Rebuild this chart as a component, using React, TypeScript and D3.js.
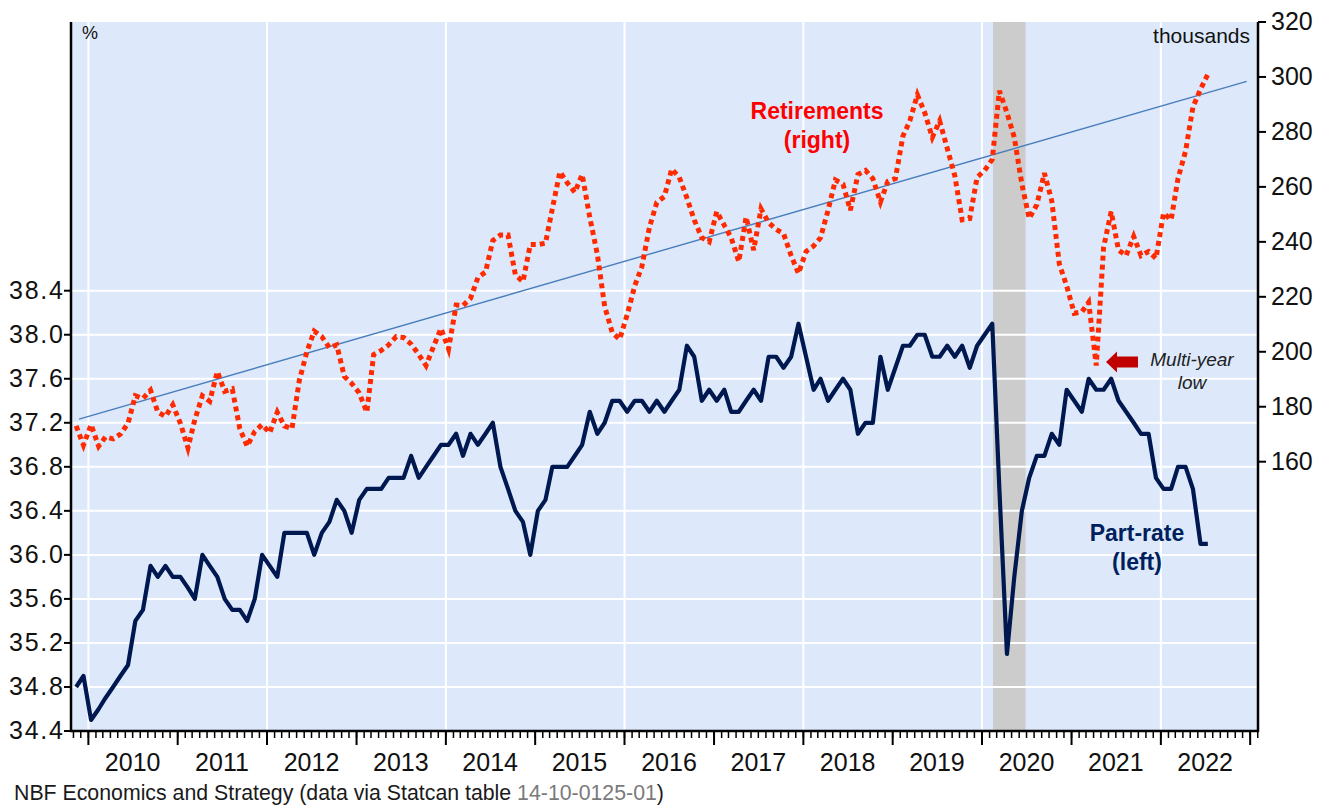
import React from 'react';
import * as d3 from 'd3';

// monthly data, Nov 2009 .. Jul 2022
const firstMonth = new Date(2009, 10, 12);

// participation rate, % (left axis)
const partRate = [
  34.8, 34.9,
  34.5, 34.6, 34.7, 34.8, 34.9, 35.0, 35.4, 35.5, 35.9, 35.8, 35.9, 35.8,
  35.8, 35.7, 35.6, 36.0, 35.9, 35.8, 35.6, 35.5, 35.5, 35.4, 35.6, 36.0,
  35.9, 35.8, 36.2, 36.2, 36.2, 36.2, 36.0, 36.2, 36.3, 36.5, 36.4, 36.2,
  36.5, 36.6, 36.6, 36.6, 36.7, 36.7, 36.7, 36.9, 36.7, 36.8, 36.9, 37.0,
  37.0, 37.1, 36.9, 37.1, 37.0, 37.1, 37.2, 36.8, 36.6, 36.4, 36.3, 36.0,
  36.4, 36.5, 36.8, 36.8, 36.8, 36.9, 37.0, 37.3, 37.1, 37.2, 37.4, 37.4,
  37.3, 37.4, 37.4, 37.3, 37.4, 37.3, 37.4, 37.5, 37.9, 37.8, 37.4, 37.5,
  37.4, 37.5, 37.3, 37.3, 37.4, 37.5, 37.4, 37.8, 37.8, 37.7, 37.8, 38.1,
  37.8, 37.5, 37.6, 37.4, 37.5, 37.6, 37.5, 37.1, 37.2, 37.2, 37.8, 37.5,
  37.7, 37.9, 37.9, 38.0, 38.0, 37.8, 37.8, 37.9, 37.8, 37.9, 37.7, 37.9,
  38.0, 38.1, 36.6, 35.1, 35.8, 36.4, 36.7, 36.9, 36.9, 37.1, 37.0, 37.5,
  37.4, 37.3, 37.6, 37.5, 37.5, 37.6, 37.4, 37.3, 37.2, 37.1, 37.1, 36.7,
  36.6, 36.6, 36.8, 36.8, 36.6, 36.1, 36.1,
];

// retirements, thousands (right axis)
const retirements = [
  173, 166,
  173.5, 165.6, 169, 168.3, 170, 174, 184, 183, 186, 178, 176.5, 180.7,
  174, 165, 175.3, 184, 182, 192.8, 185.6, 186.5, 172, 165.6, 171, 173.5,
  170.5, 178, 173, 172, 189.5, 200, 207.5, 205.5, 201.5, 202.5, 191, 188.5,
  185, 178, 199, 200.5, 202.5, 205.5, 205.2, 202.8, 199, 195, 202, 208.5,
  201, 217, 216.8, 219.5, 227, 229, 240.5, 242.5, 242.5, 228, 225.5, 239,
  239, 239.5, 252, 265.5, 261.5, 258, 264.5, 249, 235.5, 216.5, 207, 204.5,
  213.5, 224, 231, 245.3, 254.3, 256.5, 266.5, 263.5, 256, 248, 241.5, 240,
  251, 246, 241.5, 232.8, 249, 237, 252, 247, 244.5, 243, 235, 228.5,
  236.5, 238.5, 241.5, 251.5, 262.5, 261, 251.5, 264.5, 266, 263, 254.5, 262,
  263, 278.5, 284, 293.5, 287, 278, 284, 274, 264, 248, 248.5, 263.5,
  266, 270, 295, 287, 278, 261, 248.5, 253.5, 265, 255, 232, 224,
  214, 214.5, 218, 195, 238, 251, 237, 235, 242, 235, 236.5, 234,
  250.5, 248, 263, 273, 289, 295.5, 301,
];

// linear trend of retirements
const trendDates = [new Date(2009, 10, 24), new Date(2022, 11, 18)];
const trendValues = [175.5, 298.4];

// recession shading
const recession = [new Date(2020, 1, 15), new Date(2020, 5, 27)];

const years = [2010, 2011, 2012, 2013, 2014, 2015, 2016, 2017, 2018, 2019, 2020, 2021, 2022];
const leftTicks = [34.4, 34.8, 35.2, 35.6, 36.0, 36.4, 36.8, 37.2, 37.6, 38.0, 38.4];
const rightTicks = [160, 180, 200, 220, 240, 260, 280, 300, 320];

const W = 1325;
const H = 807;
const left = 71;
const right = 1258;
const top = 22;
const bottom = 731;
const font = 'Liberation Sans, Arial, sans-serif';

export default function App() {
  const x = d3.scaleTime().domain([new Date(2009, 9, 22), new Date(2023, 1, 2)]).range([left, right]);
  const yL = d3.scaleLinear().domain([34.4, 38.4]).range([bottom, 290.7]);
  const yR = d3.scaleLinear().domain([160, 320]).range([461.7, top]);

  const months = partRate.map((_, i) => d3.timeMonth.offset(firstMonth, i));

  const partLine = d3.line<number>()
    .x((_, i) => x(months[i]))
    .y((d) => yL(d));
  const retLine = d3.line<number>()
    .x((_, i) => x(months[i]))
    .y((d) => yR(d));

  const minorTicks = d3.timeMonth.range(new Date(2009, 10, 1), new Date(2023, 1, 2));
  const majorTicks = [...years, 2023].map((y) => new Date(y, 0, 1));

  return (
    <svg width={W} height={H} style={{ position: 'absolute', left: 0, top: 0 }} fontFamily={font}>
      <rect x={0} y={0} width={W} height={H} fill="#ffffff" />
      <rect x={left} y={top} width={right - left} height={bottom - top} fill="#dde9fb" />

      {/* recession */}
      <rect
        x={x(recession[0])}
        y={top}
        width={x(recession[1]) - x(recession[0])}
        height={bottom - top}
        fill="#cccccc"
      />

      {/* grid */}
      {leftTicks.map((t) => (
        <line key={'h' + t} x1={left} x2={right} y1={yL(t)} y2={yL(t)} stroke="#ffffff" strokeWidth={2} />
      ))}
      {years.filter((y) => y % 2 === 0).map((y) => (
        <line
          key={'v' + y}
          x1={x(new Date(y, 0, 1))}
          x2={x(new Date(y, 0, 1))}
          y1={top}
          y2={bottom}
          stroke="#ffffff"
          strokeWidth={2}
        />
      ))}

      {/* trend */}
      <line
        x1={x(trendDates[0])}
        y1={yR(trendValues[0])}
        x2={x(trendDates[1])}
        y2={yR(trendValues[1])}
        stroke="#4a7ebb"
        strokeWidth={1.4}
      />

      {/* series */}
      <path
        d={retLine(retirements) || ''}
        fill="none"
        stroke="#ff2a00"
        strokeWidth={5}
        strokeDasharray="5 4"
      />
      <path
        d={partLine(partRate) || ''}
        fill="none"
        stroke="#001850"
        strokeWidth={4.2}
        strokeLinejoin="round"
      />

      {/* axes */}
      <line x1={left} x2={left} y1={top} y2={bottom + 1} stroke="#000" strokeWidth={2.5} />
      <line x1={right} x2={right} y1={top} y2={bottom + 1} stroke="#000" strokeWidth={2.5} />
      <line x1={left - 1} x2={right + 1} y1={bottom} y2={bottom} stroke="#000" strokeWidth={2.5} />

      {leftTicks.map((t) => (
        <g key={'lt' + t}>
          <line x1={left - 7} x2={left} y1={yL(t)} y2={yL(t)} stroke="#000" strokeWidth={2} />
          <text
            x={left - 62}
            y={yL(t) + 8}
            textAnchor="start"
            fontSize={25}
            fill="#111"
            textLength={54}
            lengthAdjust="spacing"
          >
            {t.toFixed(1)}
          </text>
        </g>
      ))}
      {rightTicks.map((t) => (
        <g key={'rt' + t}>
          <line x1={right} x2={right + 8} y1={yR(t)} y2={yR(t)} stroke="#000" strokeWidth={2} />
          <text x={right + 13} y={yR(t) + 8} textAnchor="start" fontSize={25} fill="#111">
            {t}
          </text>
        </g>
      ))}
      {minorTicks.map((d) => (
        <line key={'m' + +d} x1={x(d)} x2={x(d)} y1={bottom} y2={bottom + 7} stroke="#000" strokeWidth={1.5} />
      ))}
      {majorTicks.map((d) => (
        <line key={'M' + +d} x1={x(d)} x2={x(d)} y1={bottom} y2={bottom + 14} stroke="#000" strokeWidth={2} />
      ))}
      {years.map((y) => (
        <text key={'y' + y} x={x(new Date(y, 6, 1))} y={771} textAnchor="middle" fontSize={25} fill="#111">
          {y}
        </text>
      ))}

      {/* unit labels */}
      <text x={82} y={39} fontSize={18} fill="#111">%</text>
      <text x={1250} y={43} textAnchor="end" fontSize={21} fill="#111">thousands</text>

      {/* series labels */}
      <text x={817} y={119} textAnchor="middle" fontSize={23} fontWeight="bold" fill="#ff0000">Retirements</text>
      <text x={817} y={148} textAnchor="middle" fontSize={23} fontWeight="bold" fill="#ff0000">(right)</text>
      <text x={1137} y={541} textAnchor="middle" fontSize={23} fontWeight="bold" fill="#001f5c">Part-rate</text>
      <text x={1137} y={570} textAnchor="middle" fontSize={23} fontWeight="bold" fill="#001f5c">(left)</text>

      {/* annotation */}
      <path
        d="M1106,362 L1117,351.5 L1117,356.5 L1138,356.5 L1138,367.5 L1117,367.5 L1117,372.5 Z"
        fill="#c00000"
      />
      <text x={1192} y={366} textAnchor="middle" fontSize={19} fontStyle="italic" fill="#222">Multi-year</text>
      <text x={1192} y={389} textAnchor="middle" fontSize={19} fontStyle="italic" fill="#222">low</text>

      {/* source */}
      <text x={14} y={800} fontSize={21.3} fill="#1a1a1a">
        NBF Economics and Strategy (data via Statcan table <tspan fill="#7a7a7a">14-10-0125-01</tspan>)
      </text>
    </svg>
  );
}
